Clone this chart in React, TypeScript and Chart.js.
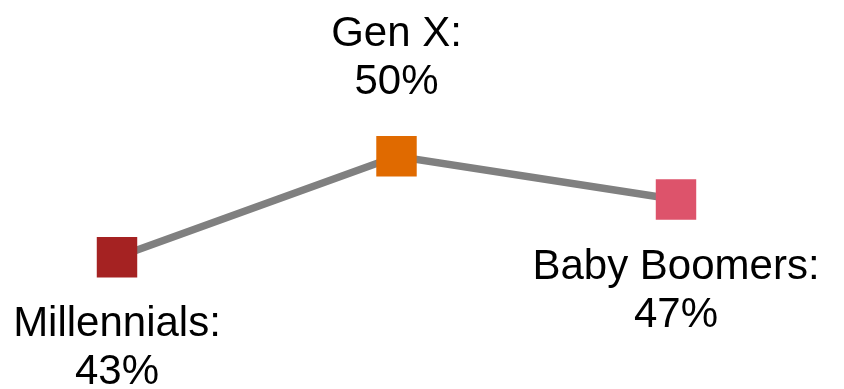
import React, { useEffect, useRef } from "react";
import { Chart, registerables } from "chart.js";

Chart.register(...registerables);

const categories = ["Millennials", "Gen X", "Baby Boomers"];
const values = [43, 50, 47];
const pointColors = ["#A52222", "#E06A00", "#DD536B"];
const labelAbove = [false, true, false];

const labelPlugin = {
  id: "genLabels",
  afterDatasetsDraw(chart: any) {
    const ctx = chart.ctx;
    const meta = chart.getDatasetMeta(0);
    ctx.save();
    ctx.font = "42px 'Liberation Sans', Arial, sans-serif";
    ctx.fillStyle = "#000000";
    ctx.textAlign = "center";
    ctx.textBaseline = "alphabetic";
    meta.data.forEach((pt: any, i: number) => {
      const line1 = categories[i] + ":";
      const line2 = values[i] + "%";
      if (labelAbove[i]) {
        ctx.fillText(line1, pt.x, pt.y - 110);
        ctx.fillText(line2, pt.x, pt.y - 62);
      } else {
        ctx.fillText(line1, pt.x, pt.y + 79);
        ctx.fillText(line2, pt.x, pt.y + 127);
      }
    });
    ctx.restore();
  },
};

export default function App() {
  const ref = useRef<HTMLCanvasElement>(null);
  useEffect(() => {
    if (!ref.current) return;
    const chart = new Chart(ref.current, {
      type: "line",
      data: {
        labels: categories,
        datasets: [
          {
            data: values,
            borderColor: "#808080",
            borderWidth: 7.5,
            pointStyle: "rect",
            pointRadius: 28.6,
            pointHoverRadius: 28.6,
            pointBackgroundColor: pointColors,
            pointBorderColor: pointColors,
            pointBorderWidth: 0,
            clip: false as any,
            tension: 0,
          },
        ],
      },
      options: {
        responsive: false,
        animation: false,
        layout: { autoPadding: false, padding: { left: 117, right: 168, top: 12, bottom: 2 } },
        plugins: {
          legend: { display: false },
          tooltip: { enabled: false },
          title: { display: false },
        },
        scales: {
          x: { display: false, offset: false },
          y: { display: false, min: 34, max: 60 },
        },
      },
      plugins: [labelPlugin],
    });
    return () => chart.destroy();
  }, []);
  return (
    <div style={{ position: "fixed", left: 0, top: 0, width: 844, height: 389, background: "#ffffff" }}>
      <canvas ref={ref} width={844} height={389} style={{ width: 844, height: 389 }} />
    </div>
  );
}
